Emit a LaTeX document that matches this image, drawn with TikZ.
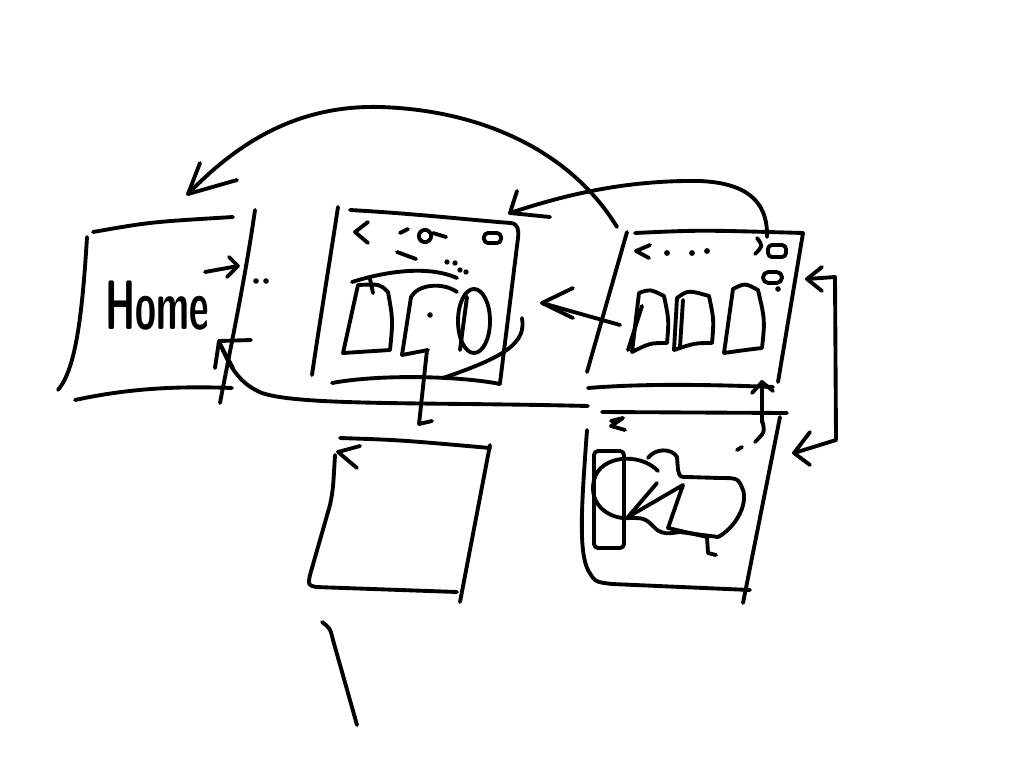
\documentclass[tikz,border=0pt]{standalone}
\usepackage{graphicx}
\usetikzlibrary{calc}
\begin{document}
\begin{tikzpicture}[x=0.75pt,y=-0.75pt,
  pen/.style={line width=2.9pt, line cap=round, line join=round},
  dot/.style={fill=black}]
\useasboundingbox[fill=white] (0,0) rectangle (1024,768);

% ---------- Home box ----------
\draw[pen] (93,232) .. controls (150,222) .. (233,217);
\draw[pen] (87,237) .. controls (82,320) and (75,370) .. (58,390);
\draw[pen] (75,400) .. controls (130,388) and (180,386) .. (232,388);
\draw[pen] (255,210) .. controls (245,280) and (230,350) .. (220,403);
\node (home) at (157,306) {\scalebox{0.95}[1.75]{\fontsize{30}{32}\selectfont\sffamily\bfseries Home}};
% small arrow and dots
\coordinate (ha1) at (205,272); \coordinate (ha2) at (238,266);
\draw[pen] (ha1) -- (ha2);
\draw[pen] (229,257) -- (ha2) -- (227,277);
\fill (256,281) circle (2.1pt);
\fill (266,281) circle (2.1pt);

% long curve from box 4 top back to Home
\coordinate (lc1) at (588,406); \coordinate (lc2) at (219,341);
\draw[pen] (lc1) .. controls (430,402) and (300,406) .. (262,393)
  .. controls (240,384) and (230,368) .. (lc2);
\draw[pen] (251,340) -- (lc2) -- (215,368);
\draw[pen] (221,346) -- (233,368);

% ---------- Box 2 (centre top) ----------
\draw[pen] (338,207) .. controls (330,260) and (320,320) .. (312,375);
\draw[pen] (350,210) .. controls (420,214) and (470,220) .. (511,223)
  .. controls (518,224) and (519,230) .. (518,238) -- (500,383);
\draw[pen] (332,383) .. controls (380,374) and (460,376) .. (500,384);
\draw[pen] (368,222) -- (355,232) -- (368,243);
\draw[pen] (400,233) -- (408,229);
\draw[pen] (425,236) circle (4.6pt);
\draw[pen] (433,233) -- (446,237);
\draw[pen, rounded corners=3pt] (484,233) rectangle (501,243);
\draw[pen] (397,252) -- (416,259);
\foreach \p in {(447,262),(455,263),(460,270),(466,272)} \fill \p circle (2pt);
\draw[pen] (352,282) .. controls (390,270) and (430,266) .. (457,278);
% D shapes
\draw[pen] (358,285) -- (343,353) -- (390,350) .. controls (393,320) .. (388,292)
  .. controls (380,284) .. (358,285);
\draw[pen] (370,279) -- (373,293);
\draw[pen] (402,355) -- (411,297) .. controls (418,284) and (443,282) .. (457,292);
\draw[pen] (402,355) -- (428,350);
\draw[pen] (474,321) ellipse (12pt and 24pt);
\draw[pen] (467,297) -- (460,350);
\fill (430,315) circle (2.1pt);
\draw[pen] (427,350) -- (419,424) -- (432,421);
\draw[pen] (522,318) .. controls (526,342) and (508,356) .. (443,378);

% ---------- Box 3 (top right) ----------
\draw[pen] (627,232) -- (587,372);
\draw[pen] (635,233) .. controls (700,230) .. (803,233);
\draw[pen] (803,233) -- (778,382);
\draw[pen] (588,388) .. controls (650,383) and (720,385) .. (773,387);
\draw[pen] (650,245) -- (636,251) -- (649,258);
\foreach \p in {(667,253),(692,253),(707,251)} \fill \p circle (2.2pt);
\draw[pen] (757,238) .. controls (763,246) .. (755,254);
\draw[pen, rounded corners=3pt] (768,245) rectangle (786,257);
\draw[pen, rounded corners=4pt] (763,272) rectangle (782,283);
\fill (778,289) circle (2.1pt);
% D shapes
\draw[pen] (632,352) -- (639,293) .. controls (650,289) .. (664,296)
  .. controls (669,320) .. (667,343) .. controls (650,343) .. (632,352);
\draw[pen] (642,306) -- (628,350);
\draw[pen] (674,350) -- (677,298) .. controls (688,290) .. (709,296)
  .. controls (714,320) .. (712,343) .. controls (695,343) .. (674,350);
\draw[pen] (683,300) -- (680,347);
\draw[pen] (724,353) -- (733,289) .. controls (745,283) .. (758,290)
  .. controls (765,320) .. (762,348) .. controls (745,350) .. (724,353);

% arrow box 3 -> box 2
\coordinate (a1s) at (620,325); \coordinate (a1e) at (542,303);
\draw[pen] (a1s) -- (a1e);
\draw[pen] (573,288) -- (a1e) -- (573,318);

% curve from box 3 top-right to box 2 top-right
\coordinate (a2s) at (767,237); \coordinate (a2e) at (510,213);
\draw[pen] (a2s) .. controls (768,200) and (745,183) .. (700,181)
  .. controls (630,180) and (570,193) .. (a2e);
\draw[pen] (517,191) -- (a2e) -- (550,217);

% big arc from box 3 to Home
\coordinate (a3s) at (617,227); \coordinate (a3e) at (188,194);
\draw[pen] (a3s) .. controls (570,150) and (480,110) .. (380,107)
  .. controls (300,105) and (240,140) .. (a3e);
\draw[pen] (200,163) -- (a3e) -- (237,180);

% right double arrow between box 3 and box 4
\coordinate (d1) at (807,279); \coordinate (d2) at (794,453);
\draw[pen] (d1) -- (835,277) -- (836,440) -- (d2);
\draw[pen] (822,267) -- (d1) -- (822,291);
\draw[pen] (810,432) -- (d2) -- (810,465);

% ---------- Box 4 (bottom right) ----------
\draw[pen] (602,412) -- (787,413);
\draw[pen] (587,430) .. controls (582,500) and (578,550) .. (588,570)
  .. controls (595,582) .. (612,584) -- (750,590);
\draw[pen] (780,417) -- (743,603);
\draw[pen] (611,421) -- (623,418) -- (611,426) -- (625,430);
\coordinate (u1) at (762,422); \coordinate (u2) at (762,382);
\draw[pen] (u1) -- (u2);
\draw[pen] (752,393) -- (u2) -- (773,391);
\draw[pen] (762,420) .. controls (765,432) .. (755,442);
\draw[pen] (737,450) -- (742,447);
\draw[pen, rounded corners=3pt] (594,451) rectangle (624,548);
\draw[pen] (658,471) .. controls (640,452) and (600,455) .. (594,480)
  .. controls (588,505) and (610,520) .. (630,518) .. controls (645,518) .. (657,530)
  .. controls (665,534) .. (680,532) -- (718,537) .. controls (735,528) and (748,505) .. (743,490)
  .. controls (738,478) .. (720,478) -- (687,477) .. controls (680,477) .. (678,470)
  -- (677,457) .. controls (672,448) and (655,448) .. (648,458);
\coordinate (i1) at (683,485); \coordinate (i2) at (628,517);
\draw[pen] (i2) -- (i1) -- (668,528) -- (707,537) -- (708,553) -- (716,555);
\draw[pen] (657,483) -- (i2);

% ---------- Box 5 (bottom centre) ----------
\draw[pen] (340,438) .. controls (400,440) .. (490,448);
\draw[pen] (490,445) -- (460,602);
\draw[pen] (335,455) .. controls (333,490) .. (330,505) -- (310,575)
  .. controls (308,585) .. (316,587) -- (457,592);
\coordinate (b5) at (338,452);
\draw[pen] (360,446) -- (b5) -- (357,468);
\draw[pen] (322,622) .. controls (330,628) .. (333,640) -- (357,725);
\end{tikzpicture}
\end{document}
